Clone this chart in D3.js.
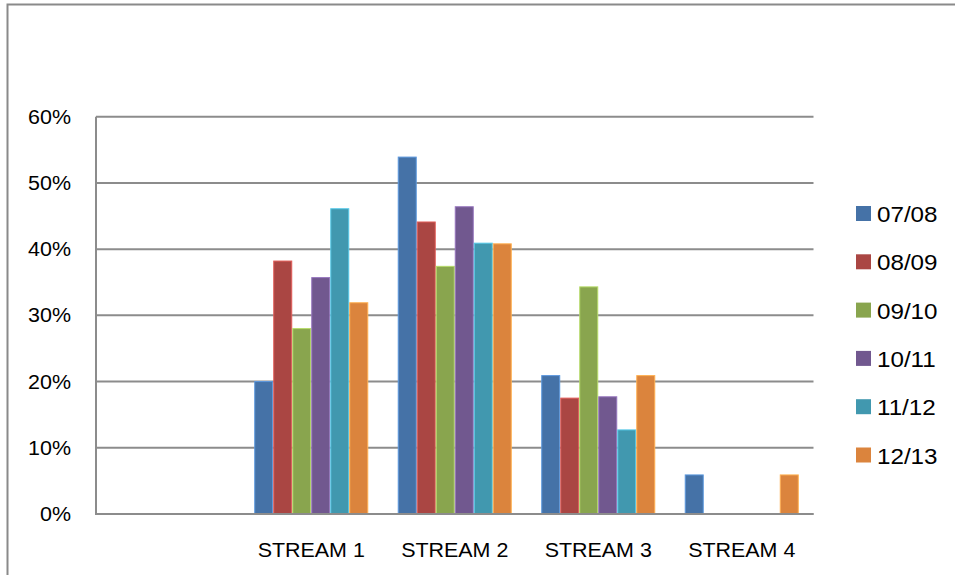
<!DOCTYPE html>
<html>
<head>
<meta charset="utf-8">
<script src="https://cdn.jsdelivr.net/npm/d3@7"></script>
<style>
  body { margin: 0; background: #fff; }
  text { font-family: "Liberation Sans", Arial, sans-serif; fill: #000; }
</style>
</head>
<body>
<svg id="chart"></svg>
<script>
// set svg params

var svgWidth = 955, svgHeight = 575;

// chart data (first category is empty in the original)

var categories = ["", "STREAM 1", "STREAM 2", "STREAM 3", "STREAM 4"];
var seriesNames = ["07/08", "08/09", "09/10", "10/11", "11/12", "12/13"];
var v0708 = [null, 20.0, 53.9, 20.9, 5.9];
var v0809 = [null, 38.2, 44.1, 17.5, 0];
var v0910 = [null, 28.0, 37.4, 34.3, 0];
var v1011 = [null, 35.7, 46.4, 17.7, 0];
var v1112 = [null, 46.1, 40.9, 12.7, 0];
var v1213 = [null, 31.9, 40.8, 20.9, 5.9];
var yTicks = [0, 10, 20, 30, 40, 50, 60];

var seriesValues = [v0708, v0809, v0910, v1011, v1112, v1213];
var colors = ["#4572A7", "#AA4643", "#89A54E", "#71588F", "#4198AF", "#DB843D"];

// plot area

var plotLeft = 96, plotRight = 813.5, plotTop = 116.7, plotBottom = 514;
var stretch = 1.1; // the original font is wider than Liberation Sans

var xScale = d3.scaleBand()
    .domain(categories)
    .range([plotLeft, plotRight])
    .padding(0);

var xInner = d3.scaleBand()
    .domain(seriesNames)
    .range([0, xScale.bandwidth()])
    .paddingInner(0)
    .paddingOuter(0.775);

var yScale = d3.scaleLinear()
    .domain([0, 60])
    .range([plotBottom, plotTop]);

var svg = d3.select("#chart")
    .attr("width", svgWidth)
    .attr("height", svgHeight);

// outer chart frame (cropped by the picture)

svg.append("rect")
    .attr("x", 7.5).attr("y", 4.5)
    .attr("width", 1000).attr("height", 700)
    .attr("fill", "none")
    .attr("stroke", "#8a8a8a")
    .attr("stroke-width", 2);

// gridlines

svg.append("g")
    .selectAll("line")
    .data(yTicks)
    .enter()
    .append("line")
    .attr("x1", plotLeft).attr("x2", plotRight)
    .attr("y1", function (d) { return yScale(d); })
    .attr("y2", function (d) { return yScale(d); })
    .attr("stroke", "#8c8c8c")
    .attr("stroke-width", 2);

// bars

var groups = svg.append("g")
    .selectAll("g")
    .data(seriesNames)
    .enter()
    .append("g")
    .attr("fill", function (d, i) { return colors[i]; })
    .attr("stroke", function (d, i) { return d3.color(colors[i]).brighter(0.8); });

groups.selectAll("rect")
    .data(function (d, i) {
      return seriesValues[i].map(function (v, j) { return {s: d, c: categories[j], v: v}; });
    })
    .enter()
    .filter(function (d) { return d.v; })
    .append("rect")
    .attr("x", function (d) { return xScale(d.c) + xInner(d.s) + 0.5; })
    .attr("width", xInner.bandwidth() - 1)
    .attr("y", function (d) { return yScale(d.v); })
    .attr("height", function (d) { return yScale(0) - yScale(d.v); })
    .attr("stroke-width", 1);

// axes lines

svg.append("line")
    .attr("x1", plotLeft).attr("x2", plotLeft)
    .attr("y1", plotTop).attr("y2", plotBottom + 1)
    .attr("stroke", "#8c8c8c").attr("stroke-width", 2);

svg.append("line")
    .attr("x1", plotLeft).attr("x2", plotRight)
    .attr("y1", plotBottom).attr("y2", plotBottom)
    .attr("stroke", "#8c8c8c").attr("stroke-width", 2);

// y tick labels

svg.append("g")
    .selectAll("text")
    .data(yTicks)
    .enter()
    .append("text")
    .attr("transform", function (d) {
      return "translate(71," + (yScale(d) + 7) + ") scale(" + stretch + ",1)";
    })
    .attr("text-anchor", "end")
    .attr("font-size", 19.5)
    .text(function (d) { return d + "%"; });

// x labels

svg.append("g")
    .selectAll("text")
    .data(categories.filter(function (c) { return c; }))
    .enter()
    .append("text")
    .attr("transform", function (d) {
      return "translate(" + (xScale(d) + xScale.bandwidth() / 2) + ",557) scale(" + stretch + ",1)";
    })
    .attr("text-anchor", "middle")
    .attr("font-size", 19.5)
    .text(function (d) { return d; });

// legend

var legend = svg.append("g")
    .selectAll("g")
    .data(seriesNames)
    .enter()
    .append("g")
    .attr("transform", function (d, i) { return "translate(856," + (206 + i * 48.3) + ")"; });

legend.append("rect")
    .attr("width", 15).attr("height", 15)
    .attr("fill", function (d, i) { return colors[i]; });

legend.append("text")
    .attr("transform", "translate(21,16) scale(" + stretch + ",1)")
    .attr("font-size", 22)
    .text(function (d) { return d; });
</script>
</body>
</html>
